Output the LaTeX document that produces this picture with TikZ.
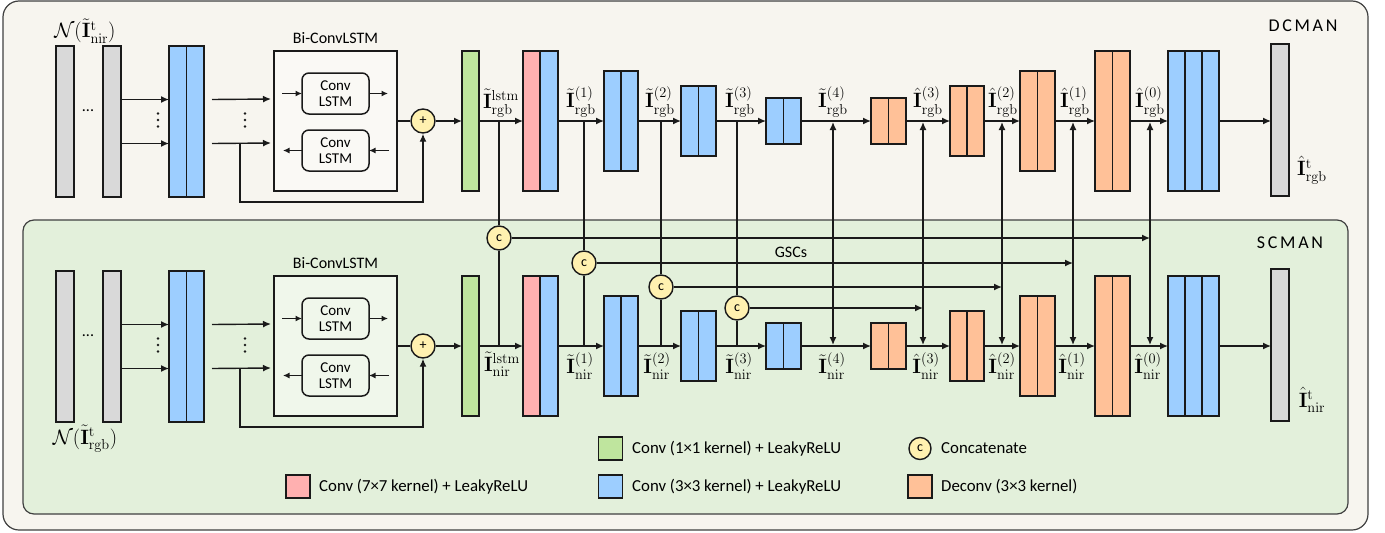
\documentclass[tikz,border=0pt]{standalone}
\usepackage{amsmath}
\usepackage[no-math]{fontspec}
\setmainfont{Carlito}
\usetikzlibrary{arrows.meta,calc}
\definecolor{outerbg}{HTML}{F7F5EF}
\definecolor{innerbg}{HTML}{E3F0DB}
\definecolor{cgray}{HTML}{D9D9D9}
\definecolor{cblue}{HTML}{9DCEFF}
\definecolor{cred}{HTML}{FFB0B0}
\definecolor{cgreen}{HTML}{BFE59E}
\definecolor{corange}{HTML}{FFC198}
\definecolor{cyel}{HTML}{FFF1B0}
\definecolor{lineblk}{HTML}{1A1A1A}
\tikzset{
  blk/.style={draw=lineblk, line width=1.5pt, inner sep=0pt, outer sep=0pt},
  blkl/.style={draw=lineblk, line width=1.5pt},
  arr/.style={draw=lineblk, line width=1.4pt, -{Latex[length=8pt,width=7pt]}},
  sarr/.style={draw=lineblk, line width=1.3pt, -{Latex[length=6.5pt,width=6pt]}},
  darr/.style={draw=lineblk, line width=1.4pt, {Latex[length=8pt,width=7pt]}-{Latex[length=8pt,width=7pt]}},
  ln/.style={draw=lineblk, line width=1.4pt},
  dotst/.style={circle, fill=lineblk, inner sep=0pt, minimum size=2.8pt},
  circ/.style={circle, draw=lineblk, fill=cyel, line width=1.4pt, minimum size=24pt, inner sep=0pt, font=\fontsize{14}{14}\selectfont},
  lbl/.style={font=\fontsize{20}{22}\selectfont, inner sep=0pt},
  txt/.style={font=\fontsize{16}{18}\selectfont, inner sep=0pt},
  ctxt/.style={font=\fontsize{15}{17}\selectfont, inner sep=0pt},
  leg/.style={font=\fontsize{16.8}{19}\selectfont, inner sep=0pt, anchor=west},
  legsq/.style={draw=lineblk, line width=1.4pt, minimum width=24pt, minimum height=23pt, inner sep=0pt},
  ttl/.style={font=\fontsize{18}{20}\selectfont\addfontfeature{LetterSpace=15}, inner sep=0pt},
}
% name, x1, x2, ycenter, height, colour
\newcommand\mkbar[6]{\node[blk, fill=#6, minimum width={#3-#2}, minimum height=#5] (#1) at ({(#2+#3)/2},#4) {};}
\newcommand\divii[1]{\draw[blkl] (#1.north) -- (#1.south);}
\newcommand\diviii[1]{%
  \draw[blkl] ($(#1.north west)!1/3!(#1.north east)$) -- ($(#1.south west)!1/3!(#1.south east)$);
  \draw[blkl] ($(#1.north west)!2/3!(#1.north east)$) -- ($(#1.south west)!2/3!(#1.south east)$);}
% vertical dots: name, x, y
\newcommand\vdts[3]{%
  \node[dotst] (#1a) at (#2,#3-6.5) {};
  \node[dotst] (#1b) at (#2,#3) {};
  \node[dotst] (#1c) at (#2,#3+6.5) {};}
% prefix, dy, box fill
\newcommand\mkrow[3]{%
  \mkbar{#1g1}{56}{74}{121.5+#2}{151}{cgray}
  \mkbar{#1g2}{103}{121}{121.5+#2}{151}{cgray}
  \node[txt] (#1hd) at (88,111+#2) {...};
  \mkbar{#1b1}{169}{204}{121.5+#2}{151}{cblue}\divii{#1b1}
  \draw[arr] ([yshift=22pt]#1g2.east) -- ([yshift=22pt]#1b1.west);
  \draw[arr] ([yshift=-22pt]#1g2.east) -- ([yshift=-22pt]#1b1.west);
  \vdts{#1vd1}{158}{120+#2}
  \node[blk, fill=#3, minimum width=123, minimum height=140] (#1bi) at (335.5,121+#2) {};
  \node[txt] (#1bit) at (335.5,38+#2) {Bi-ConvLSTM};
  \draw[arr] ([xshift=8pt,yshift=22pt]#1b1.east) -- ([xshift=-3pt,yshift=22pt]#1bi.west);
  \draw[arr] ([xshift=8pt,yshift=-22pt]#1b1.east) -- ([xshift=-3pt,yshift=-22pt]#1bi.west);
  \vdts{#1vd2}{245}{120+#2}
  \node[blk, rounded corners=7pt, fill=#3, minimum width=67, minimum height=41, ctxt, align=center] (#1cl1) at (335.5,93.5+#2) {Conv\\[-1pt]LSTM};
  \node[blk, rounded corners=7pt, fill=#3, minimum width=67, minimum height=41, ctxt, align=center] (#1cl2) at (335.5,150.5+#2) {Conv\\[-1pt]LSTM};
  \draw[sarr] ([xshift=8pt]#1bi.west |- #1cl1.west) -- (#1cl1.west);
  \draw[sarr] (#1cl1.east) -- ([xshift=-9pt]#1bi.east |- #1cl1.east);
  \draw[sarr] ([xshift=-8pt]#1bi.east |- #1cl2.east) -- (#1cl2.east);
  \draw[sarr] (#1cl2.west) -- ([xshift=9pt]#1bi.west |- #1cl2.west);
  \node[circ] (#1plus) at (423,121+#2) {+};
  \draw[ln] (#1bi.east |- #1plus) -- (#1plus);
  \mkbar{#1gr}{462}{479}{121+#2}{140}{cgreen}
  \draw[arr] (#1plus) -- (#1gr.west |- #1plus);
  \coordinate (#1sk) at (240,143+#2);
  \draw[arr] (#1sk) -- (240,202+#2) -| (#1plus.south);
  \mkbar{#1r}{523}{540}{121+#2}{140}{cred}
  \mkbar{#1rb}{540}{558}{121+#2}{140}{cblue}
  \draw[arr] (#1gr.east) -- (#1r.west);
  \mkbar{#1b2}{604}{638}{121+#2}{100}{cblue}\divii{#1b2}
  \draw[arr] (#1rb.east) -- (#1b2.west);
  \mkbar{#1b3}{681}{716}{121+#2}{70}{cblue}\divii{#1b3}
  \draw[arr] (#1b2.east) -- (#1b3.west);
  \mkbar{#1b4}{766}{801}{121+#2}{46}{cblue}\divii{#1b4}
  \draw[arr] (#1b3.east) -- (#1b4.west);
  \mkbar{#1o1}{871}{906}{121+#2}{46}{corange}\divii{#1o1}
  \draw[arr] (#1b4.east) -- (#1o1.west);
  \mkbar{#1o2}{950}{984}{121+#2}{70}{corange}\divii{#1o2}
  \draw[arr] (#1o1.east) -- (#1o2.west);
  \mkbar{#1o3}{1020}{1055}{121+#2}{100}{corange}\divii{#1o3}
  \draw[arr] (#1o2.east) -- (#1o3.west);
  \mkbar{#1o4}{1095}{1130}{121+#2}{140}{corange}\divii{#1o4}
  \draw[arr] (#1o3.east) -- (#1o4.west);
  \mkbar{#1b5}{1168}{1219}{121+#2}{140}{cblue}\diviii{#1b5}
  \draw[arr] (#1o4.east) -- (#1b5.west);
  \mkbar{#1gf}{1271}{1289}{120+#2}{152}{cgray}
  \draw[arr] (#1b5.east) -- (#1gf.west |- #1b5.east);
  \coordinate (#1t0) at (499,121+#2);
  \coordinate (#1t1) at (584,121+#2);
  \coordinate (#1t2) at (661,121+#2);
  \coordinate (#1t3) at (737,121+#2);
  \coordinate (#1d4) at (833,121+#2);
  \coordinate (#1d3) at (923,121+#2);
  \coordinate (#1d2) at (1002,121+#2);
  \coordinate (#1d1) at (1073,121+#2);
  \coordinate (#1d0) at (1150,121+#2);
}
\begin{document}
\begin{tikzpicture}[x=1pt,y=-1pt]
\useasboundingbox (0,0) rectangle (1385,533);
\draw[draw=black!75, line width=1.2pt, fill=outerbg, rounded corners=16pt] (3,1) rectangle (1368,530);
\draw[draw=black!75, line width=1.2pt, fill=innerbg, rounded corners=11pt] (23,220) rectangle (1348,514);
\node[ttl] (dcman) at (1303,26) {DCMAN};
\node[ttl] (scman) at (1290,243) {SCMAN};
\mkrow{t}{0}{outerbg!60!white}
\mkrow{b}{225}{innerbg!55!white}
% concatenations
\node[circ] (c1) at (499,238) {c};
\node[circ] (c2) at (584,263) {c};
\node[circ] (c3) at (661,287) {c};
\node[circ] (c4) at (737,308) {c};
\draw[ln] (tt0) -- (c1.north); \draw[ln] (bt0) -- (c1.south);
\draw[ln] (tt1) -- (c2.north); \draw[ln] (bt1) -- (c2.south);
\draw[ln] (tt2) -- (c3.north); \draw[ln] (bt2) -- (c3.south);
\draw[ln] (tt3) -- (c4.north); \draw[ln] (bt3) -- (c4.south);
\draw[darr] ([yshift=-1pt]td4) -- ([yshift=1pt]bd4);
\draw[darr] ([yshift=-1pt]td3) -- ([yshift=1pt]bd3);
\draw[darr] ([yshift=-1pt]td2) -- ([yshift=1pt]bd2);
\draw[darr] ([yshift=-1pt]td1) -- ([yshift=1pt]bd1);
\draw[darr] ([yshift=-1pt]td0) -- ([yshift=1pt]bd0);
\draw[arr] (c1.east) -- (c1.east -| td0);
\draw[arr] (c2.east) -- (c2.east -| td1);
\draw[arr] (c3.east) -- (c3.east -| td2);
\draw[arr] (c4.east) -- (c4.east -| td3);
\node[txt] (gsc) at (791,252) {GSCs};
% labels top
\node[lbl] (ln1) at (85,31) {$\mathcal{N}(\tilde{\mathbf{I}}^{\mathrm{t}}_{\mathrm{nir}})$};
\node[lbl] (ln2) at (85,439) {$\mathcal{N}(\tilde{\mathbf{I}}^{\mathrm{t}}_{\mathrm{rgb}})$};
\node[lbl, anchor=south] (lt0) at (501,117) {$\tilde{\mathbf{I}}^{\mathrm{lstm}}_{\mathrm{rgb}}$};
\node[lbl, anchor=south] (lt1) at (581,117) {$\tilde{\mathbf{I}}^{(1)}_{\mathrm{rgb}}$};
\node[lbl, anchor=south] (lt2) at (660,117) {$\tilde{\mathbf{I}}^{(2)}_{\mathrm{rgb}}$};
\node[lbl, anchor=south] (lt3) at (740,117) {$\tilde{\mathbf{I}}^{(3)}_{\mathrm{rgb}}$};
\node[lbl, anchor=south] (lt4) at (833,117) {$\tilde{\mathbf{I}}^{(4)}_{\mathrm{rgb}}$};
\node[lbl, anchor=south] (lt5) at (928,117) {$\hat{\mathbf{I}}^{(3)}_{\mathrm{rgb}}$};
\node[lbl, anchor=south] (lt6) at (1003,117) {$\hat{\mathbf{I}}^{(2)}_{\mathrm{rgb}}$};
\node[lbl, anchor=south] (lt7) at (1075,117) {$\hat{\mathbf{I}}^{(1)}_{\mathrm{rgb}}$};
\node[lbl, anchor=south] (lt8) at (1150,117) {$\hat{\mathbf{I}}^{(0)}_{\mathrm{rgb}}$};
\node[lbl] (ltf) at (1312,170) {$\hat{\mathbf{I}}^{\mathrm{t}}_{\mathrm{rgb}}$};
% labels bottom
\node[lbl, anchor=north] (lb0) at (502,352) {$\tilde{\mathbf{I}}^{\mathrm{lstm}}_{\mathrm{nir}}$};
\node[lbl, anchor=north] (lb1) at (580,352) {$\tilde{\mathbf{I}}^{(1)}_{\mathrm{nir}}$};
\node[lbl, anchor=north] (lb2) at (657,352) {$\tilde{\mathbf{I}}^{(2)}_{\mathrm{nir}}$};
\node[lbl, anchor=north] (lb3) at (739,352) {$\tilde{\mathbf{I}}^{(3)}_{\mathrm{nir}}$};
\node[lbl, anchor=north] (lb4) at (832,352) {$\tilde{\mathbf{I}}^{(4)}_{\mathrm{nir}}$};
\node[lbl, anchor=north] (lb5) at (926,352) {$\hat{\mathbf{I}}^{(3)}_{\mathrm{nir}}$};
\node[lbl, anchor=north] (lb6) at (1002,352) {$\hat{\mathbf{I}}^{(2)}_{\mathrm{nir}}$};
\node[lbl, anchor=north] (lb7) at (1072,352) {$\hat{\mathbf{I}}^{(1)}_{\mathrm{nir}}$};
\node[lbl, anchor=north] (lb8) at (1148,352) {$\hat{\mathbf{I}}^{(0)}_{\mathrm{nir}}$};
\node[lbl] (lbf) at (1312,400) {$\hat{\mathbf{I}}^{\mathrm{t}}_{\mathrm{nir}}$};
% legend
\node[legsq, fill=cgreen] (sqg) at (610.5,448.5) {};
\node[leg] (tg) at (632,448.5) {Conv (1×1 kernel) + LeakyReLU};
\node[circ, minimum size=22pt] (sqc) at (920,448.5) {c};
\node[leg] (tc) at (941,448.5) {Concatenate};
\node[legsq, fill=cred] (sqr) at (298,486.5) {};
\node[leg] (tr) at (319,486.5) {Conv (7×7 kernel) + LeakyReLU};
\node[legsq, fill=cblue] (sqb) at (610.5,486.5) {};
\node[leg] (tb) at (632,486.5) {Conv (3×3 kernel) + LeakyReLU};
\node[legsq, fill=corange] (sqo) at (920,486.5) {};
\node[leg] (to) at (941,486.5) {Deconv (3×3 kernel)};
\end{tikzpicture}
\end{document}
